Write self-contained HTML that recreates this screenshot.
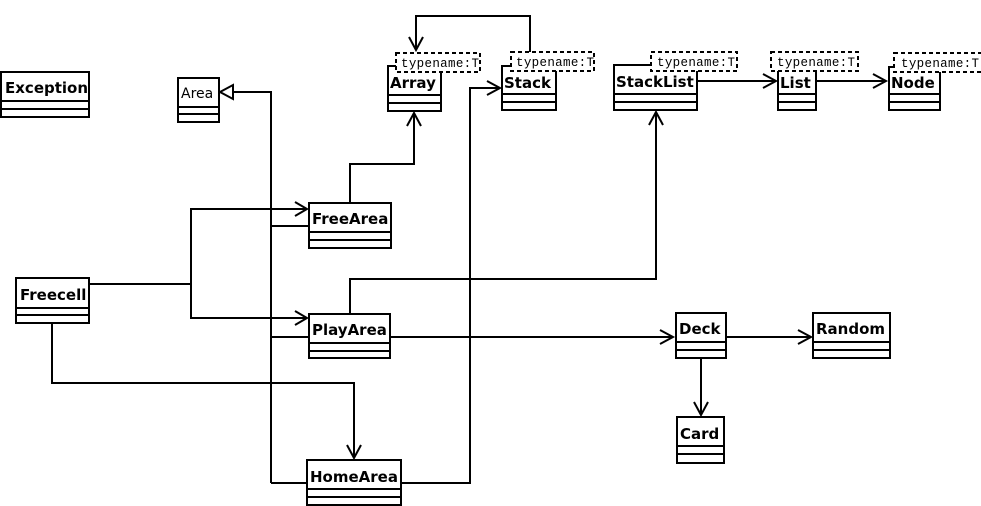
<!DOCTYPE html>
<html><head><meta charset="utf-8"><style>
html,body{margin:0;padding:0;background:#fff;}
svg{display:block;}
.b{font-family:"DejaVu Sans","Liberation Sans",sans-serif;font-weight:bold;font-size:15px;fill:#000;}
.n{font-family:"DejaVu Sans","Liberation Sans",sans-serif;font-size:14px;fill:#000;}
.t{font-family:"Liberation Mono",monospace;font-size:12.5px;fill:#000;}
</style></head><body>
<svg width="981" height="506" viewBox="0 0 981 506" xmlns="http://www.w3.org/2000/svg">
<g fill="none" stroke="#000" stroke-width="2">
<polyline points="271,483 271,92 232,92"/>
<polygon points="220,92 233,85 233,99" fill="#fff"/>
<line x1="271" y1="226" x2="309" y2="226"/>
<line x1="271" y1="337" x2="309" y2="337"/>
<line x1="271" y1="483" x2="307" y2="483"/>
<polyline points="89,284 191,284"/>
<polyline points="307,209 191,209 191,318 307,318"/>
<polyline points="295,202 307,209 295,216"/>
<polyline points="295,311 307,318 295,325"/>
<polyline points="52,323 52,383 354,383 354,458"/>
<polyline points="347,445 354,458 361,445"/>
<polyline points="350,203 350,164 414,164 414,113"/>
<polyline points="407,126 414,113 421,126"/>
<polyline points="401,483 470,483 470,88 500,88"/>
<polyline points="487,81 500,88 487,95"/>
<polyline points="350,313 350,279 656,279 656,112"/>
<polyline points="649,125 656,112 663,125"/>
<line x1="390" y1="337" x2="673" y2="337"/>
<polyline points="660,330 673,337 660,344"/>
<line x1="726" y1="337" x2="811" y2="337"/>
<polyline points="798,330 811,337 798,344"/>
<line x1="701" y1="358" x2="701" y2="415"/>
<polyline points="694,402 701,415 708,402"/>
<polyline points="530,52 530,16 416,16 416,50"/>
<polyline points="409,37 416,50 423,37"/>
<line x1="697" y1="81" x2="776" y2="81"/>
<polyline points="763,74 776,81 763,88"/>
<line x1="816" y1="81" x2="886" y2="81"/>
<polyline points="873,74 886,81 873,88"/>
</g>
<g fill="#fff" stroke="#000" stroke-width="2">
<rect x="1" y="72" width="88" height="45"/><line x1="1" y1="101" x2="89" y2="101"/><line x1="1" y1="109" x2="89" y2="109"/>
<rect x="178" y="78" width="41" height="44"/><line x1="178" y1="107" x2="219" y2="107"/><line x1="178" y1="114" x2="219" y2="114"/>
<rect x="16" y="278" width="73" height="45"/><line x1="16" y1="308" x2="89" y2="308"/><line x1="16" y1="315" x2="89" y2="315"/>
<rect x="309" y="203" width="82" height="45"/><line x1="309" y1="232" x2="391" y2="232"/><line x1="309" y1="240" x2="391" y2="240"/>
<rect x="309" y="314" width="81" height="44"/><line x1="309" y1="343" x2="390" y2="343"/><line x1="309" y1="351" x2="390" y2="351"/>
<rect x="307" y="460" width="94" height="45"/><line x1="307" y1="489" x2="401" y2="489"/><line x1="307" y1="497" x2="401" y2="497"/>
<rect x="676" y="313" width="50" height="45"/><line x1="676" y1="342" x2="726" y2="342"/><line x1="676" y1="350" x2="726" y2="350"/>
<rect x="813" y="313" width="77" height="45"/><line x1="813" y1="342" x2="890" y2="342"/><line x1="813" y1="350" x2="890" y2="350"/>
<rect x="677" y="417" width="47" height="46"/><line x1="677" y1="446" x2="724" y2="446"/><line x1="677" y1="454" x2="724" y2="454"/>
<rect x="388" y="66" width="53" height="45"/><line x1="388" y1="95" x2="441" y2="95"/><line x1="388" y1="103" x2="441" y2="103"/>
<rect x="502" y="66" width="54" height="44"/><line x1="502" y1="94" x2="556" y2="94"/><line x1="502" y1="102" x2="556" y2="102"/>
<rect x="614" y="65" width="83" height="45"/><line x1="614" y1="94" x2="697" y2="94"/><line x1="614" y1="102" x2="697" y2="102"/>
<rect x="778" y="66" width="38" height="44"/><line x1="778" y1="94" x2="816" y2="94"/><line x1="778" y1="102" x2="816" y2="102"/>
<rect x="889" y="67" width="51" height="43"/><line x1="889" y1="94" x2="940" y2="94"/><line x1="889" y1="102" x2="940" y2="102"/>
</g>
<g fill="#fff" stroke="#000" stroke-width="2" stroke-dasharray="4,3">
<rect x="396" y="53" width="84" height="19"/>
<rect x="511" y="52" width="83" height="19"/>
<rect x="651" y="52" width="86" height="19"/>
<rect x="771" y="52" width="87" height="19"/>
<rect x="894" y="53" width="90" height="19"/>
</g>
<g class="t">
<text x="401" y="67" textLength="78">typename:T</text>
<text x="516" y="66" textLength="78">typename:T</text>
<text x="657" y="66" textLength="78">typename:T</text>
<text x="777" y="66" textLength="78">typename:T</text>
<text x="901" y="67" textLength="78">typename:T</text>
</g>
<g class="b">
<text x="5" y="93">Exception</text>
<text x="20" y="300">Freecell</text>
<text x="312" y="224">FreeArea</text>
<text x="312" y="335">PlayArea</text>
<text x="310" y="482">HomeArea</text>
<text x="679" y="334">Deck</text>
<text x="816" y="334">Random</text>
<text x="680" y="439">Card</text>
<text x="390" y="88">Array</text>
<text x="504" y="88">Stack</text>
<text x="616" y="87">StackList</text>
<text x="780" y="88">List</text>
<text x="891" y="88">Node</text>
</g>
<text class="n" x="181" y="98">Area</text>
</svg>
</body></html>
